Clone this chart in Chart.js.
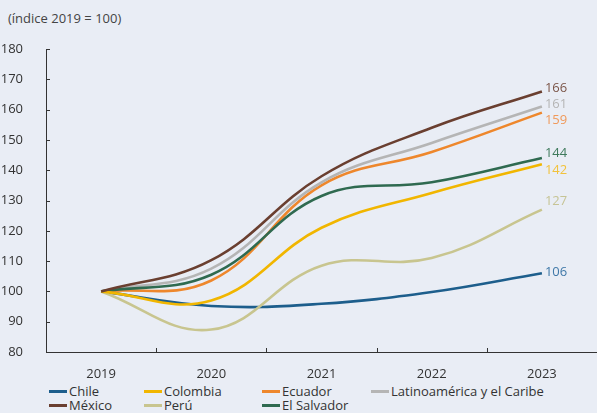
<!DOCTYPE html>
<html lang="es">
<head>
<meta charset="utf-8">
<script src="https://cdn.jsdelivr.net/npm/chart.js@4"></script>
<style>
  html, body { margin: 0; padding: 0; background: #e9edf5; }
  body { width: 597px; height: 413px; position: relative; overflow: hidden; font-family: "Open Sans", "Noto Sans", sans-serif; color: #333; }
  #title { position: absolute; left: 8px; top: 9px; font-size: 13px; color: #444; }
  #wrap { position: absolute; left: 0; top: 0; width: 597px; height: 382px; }
  #legend { position: absolute; left: 49px; top: 384px; display: grid; grid-template-columns: 95px 118px 109px auto; font-size: 13px; line-height: 14px; color: #333; }
  .lg-item { display: flex; align-items: center; white-space: nowrap; }
  .lg-mark { display: inline-block; width: 18px; height: 3px; margin-right: 2px; }
</style>
</head>
<body>
<div id="title">(índice 2019 = 100)</div>
<div id="wrap"><canvas id="chart" width="597" height="382"></canvas></div>
<div id="legend"></div>
<script>
// Categories and y ticks
const years = ['2019', '2020', '2021', '2022', '2023'];
const yMin = 80, yMax = 180, yStep = 10;

// Series (index 2019 = 100)
const chile       = [100, 95.2, 95.9, 99.8, 106];
const colombia    = [100, 97.0, 121, 132.5, 142];
const ecuador     = [100, 103.6, 135, 146, 159];
const latamCaribe = [100, 107.5, 136, 149, 161];
const mexico      = [100, 110.3, 138, 154, 166];
const peru        = [100, 87.4, 108.5, 111, 127];
const elSalvador  = [100, 105.5, 131.5, 136, 144];

const seriesNames = ['Chile', 'Colombia', 'Ecuador', 'Latinoamérica y el Caribe', 'México', 'Perú', 'El Salvador'];
const seriesData = [chile, colombia, ecuador, latamCaribe, mexico, peru, elSalvador];
const lineColors = ['#1d5e8c', '#f1b600', '#ee872c', '#b5b5b5', '#6a3f30', '#c8c58f', '#2f6a50'];
const labelColors = ['#3f78a8', '#f2c23c', '#f0995a', '#b5b5b5', '#7b5548', '#c6c495', '#3f7a5c'];
// vertical nudge of the end labels so they do not collide
const labelNudge = [-1, 6, 8, -2, -3, -8, -5];
// drawing order (lower is on top)
const drawOrder = [6, 1, 4, 3, 0, 5, 2];

const endLabels = {
    id: 'endLabels',
    afterDatasetsDraw(chart) {
        const ctx = chart.ctx;
        ctx.save();
        ctx.font = '13px "Open Sans", "Noto Sans", sans-serif';
        ctx.textBaseline = 'middle';
        ctx.textAlign = 'left';
        chart.data.datasets.forEach((ds, i) => {
            const pts = chart.getDatasetMeta(i).data;
            const last = pts[pts.length - 1];
            const v = ds.data[ds.data.length - 1];
            ctx.fillStyle = labelColors[i];
            ctx.fillText(String(Math.round(v)), last.x + 3, last.y + labelNudge[i]);
        });
        ctx.restore();
    }
};

// small tick marks pointing into the plot
const innerTicks = {
    id: 'innerTicks',
    afterDraw(chart) {
        const ctx = chart.ctx;
        const x = chart.scales.x, y = chart.scales.y;
        ctx.save();
        ctx.strokeStyle = '#333';
        ctx.lineWidth = 1;
        ctx.beginPath();
        for (let v = yMin; v <= yMax; v += yStep) {
            const py = Math.round(y.getPixelForValue(v)) + 0.5;
            ctx.moveTo(x.left, py);
            ctx.lineTo(x.left + 4, py);
        }
        for (let i = 1; i < years.length; i++) {
            const px = Math.round((x.getPixelForValue(i - 1) + x.getPixelForValue(i)) / 2) + 0.5;
            ctx.moveTo(px, y.bottom);
            ctx.lineTo(px, y.bottom - 4);
        }
        ctx.stroke();
        ctx.restore();
    }
};

new Chart(document.getElementById('chart'), {
    type: 'line',
    data: {
        labels: years,
        datasets: seriesNames.map((name, i) => ({
            label: name,
            data: seriesData[i],
            borderColor: lineColors[i],
            backgroundColor: lineColors[i],
            borderWidth: 2.6,
            pointRadius: 0,
            tension: 0.4,
            fill: false,
            order: drawOrder[i]
        }))
    },
    options: {
        responsive: false,
        animation: false,
        layout: { padding: { top: 49, right: 0, left: 0, bottom: 0 } },
        plugins: {
            legend: { display: false },
            tooltip: { enabled: false }
        },
        scales: {
            x: {
                offset: true,
                grid: { display: false, offset: true },
                border: { display: true, color: '#333', width: 1 },
                ticks: { color: '#333', font: { size: 13, family: '"Open Sans", "Noto Sans", sans-serif' }, padding: 6, maxRotation: 0 },
                afterFit(s) { s.height = 30; }
            },
            y: {
                min: yMin,
                max: yMax,
                grid: { display: false },
                border: { display: true, color: '#333', width: 1 },
                ticks: { stepSize: yStep, color: '#333', font: { size: 13, family: '"Open Sans", "Noto Sans", sans-serif' }, padding: 15 },
                afterFit(s) { s.width = 46; }
            }
        }
    },
    plugins: [endLabels, innerTicks]
});

// legend as real text
document.getElementById('legend').innerHTML = seriesNames.map((n, i) => `
    <div class="lg-item"><span class="lg-mark" style="background:${lineColors[i]}"></span>${n}</div>
`).join('');
</script>
</body>
</html>
